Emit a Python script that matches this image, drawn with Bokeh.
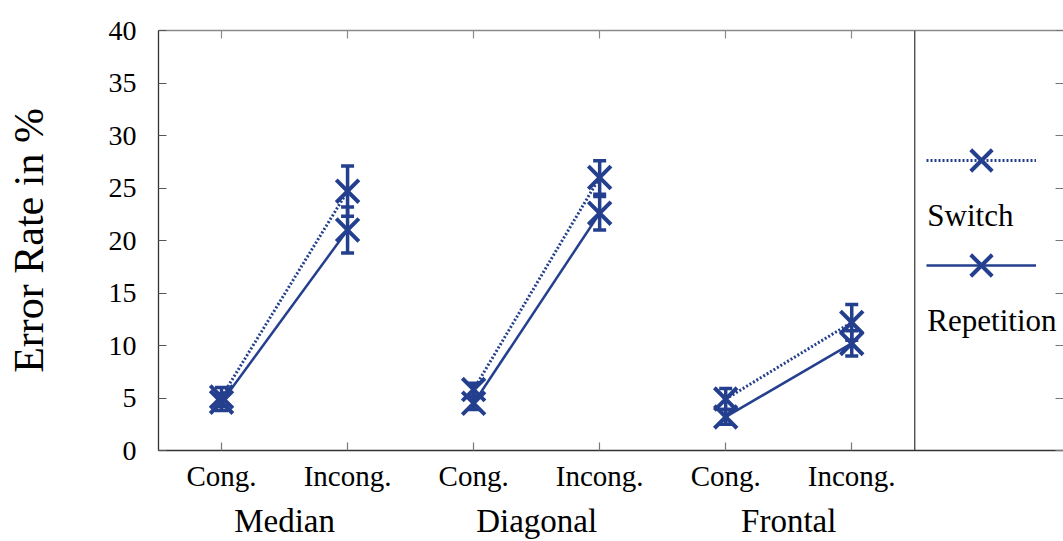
from bokeh.plotting import figure
from bokeh.models import (Range1d, LinearAxis, FixedTicker, Whisker, ColumnDataSource,
                          Span, Legend, LegendItem, Label, TeeHead)
from bokeh.embed import file_html
from bokeh.resources import INLINE

# ---- data ----
groups = ["Median", "Diagonal", "Frontal"]
conditions = ["Cong.", "Incong."]
switch_mean = [5.1, 24.7, 5.8, 26.0, 4.9, 12.2]
switch_err = [0.9, 2.4, 0.6, 1.6, 1.0, 1.7]
rep_mean = [4.6, 21.0, 4.5, 22.6, 3.2, 10.2]
rep_err = [0.8, 2.2, 0.6, 1.6, 0.7, 1.2]
series_names = ["Switch", "Repetition"]
y_ticks = [0, 5, 10, 15, 20, 25, 30, 35, 40]

BLUE = "#243f8e"
FONT = "Liberation Serif"

n = len(groups) * len(conditions)
x_pos = [i + 0.5 for i in range(n)]
tick_labels = {x: conditions[i % len(conditions)] for i, x in enumerate(x_pos)}
group_pos = [len(conditions) * g + len(conditions) / 2 for g in range(len(groups))]
group_labels = {x: groups[g] for g, x in enumerate(group_pos)}

p = figure(width=1063, height=541, x_range=Range1d(0, 7.18), y_range=Range1d(0, 40),
           output_backend="svg", toolbar_location=None,
           x_axis_location=None, y_axis_location=None,
           min_border_left=158, min_border_top=30, min_border_bottom=91, min_border_right=0)
p.outline_line_color = None
p.background_fill_color = "white"
p.border_fill_color = "white"
for g in p.grid:
    g.visible = False
p.renderers = [r for r in p.renderers if r.__class__.__name__ != "Grid"]

# ---- axes ----
yaxis = LinearAxis(ticker=FixedTicker(ticks=y_ticks), axis_label="Error Rate in %")
yaxis.major_tick_in = 8
yaxis.major_tick_out = 0
yaxis.minor_tick_line_color = None
yaxis.major_label_standoff = 22
yaxis.axis_label_standoff = 54
yaxis.axis_line_color = "#333333"
yaxis.axis_line_width = 1.3
yaxis.major_tick_line_color = "#555555"
yaxis.major_tick_line_width = 1.2
yaxis.major_label_text_font = FONT
yaxis.major_label_text_font_size = "28px"
yaxis.major_label_text_color = "black"
yaxis.axis_label_text_font = FONT
yaxis.axis_label_text_font_size = "42px"
yaxis.axis_label_text_font_style = "normal"
yaxis.axis_label_text_color = "black"
p.add_layout(yaxis, "left")

xaxis = LinearAxis(ticker=FixedTicker(ticks=x_pos), major_label_overrides=tick_labels)
xaxis.major_tick_in = 8
xaxis.major_tick_out = 0
xaxis.minor_tick_line_color = None
xaxis.major_label_standoff = 9
xaxis.axis_line_color = "#333333"
xaxis.axis_line_width = 1.3
xaxis.major_tick_line_color = "#777777"
xaxis.major_tick_line_width = 1.2
xaxis.major_label_text_font = FONT
xaxis.major_label_text_font_size = "29px"
xaxis.major_label_text_color = "black"
p.add_layout(xaxis, "below")

gaxis = LinearAxis(ticker=FixedTicker(ticks=group_pos), major_label_overrides=group_labels)
gaxis.major_tick_line_color = None
gaxis.minor_tick_line_color = None
gaxis.axis_line_color = None
gaxis.major_label_standoff = 2
gaxis.major_label_text_font = FONT
gaxis.major_label_text_font_size = "33px"
gaxis.major_label_text_color = "black"
p.add_layout(gaxis, "below")

taxis = LinearAxis(ticker=FixedTicker(ticks=x_pos))
taxis.major_tick_in = 8
taxis.major_tick_out = 0
taxis.minor_tick_line_color = None
taxis.major_label_text_font_size = "1px"
taxis.major_label_text_color = None
taxis.major_label_standoff = 0
taxis.axis_line_color = "#8a8a8a"
taxis.axis_line_width = 1.5
taxis.major_tick_line_color = "#8a8a8a"
taxis.major_tick_line_width = 1.2
p.add_layout(taxis, "above")

raxis = LinearAxis(ticker=FixedTicker(ticks=y_ticks))
raxis.major_tick_in = 8
raxis.major_tick_out = 0
raxis.minor_tick_line_color = None
raxis.major_label_text_font_size = "1px"
raxis.major_label_text_color = None
raxis.major_label_standoff = 0
raxis.axis_line_color = None
raxis.major_tick_line_color = "#777777"
raxis.major_tick_line_width = 1.2
p.add_layout(raxis, "right")

# separator between plot and legend area
p.add_layout(Span(location=len(x_pos), dimension="height", line_color="#333333", line_width=1.2))

# ---- data marks ----
def group_xs():
    k = len(conditions)
    return [x_pos[g * k:(g + 1) * k] for g in range(len(groups))]

def group_ys(vals):
    k = len(conditions)
    return [vals[g * k:(g + 1) * k] for g in range(len(groups))]

renderers = []
for mean, err, dash, lw in [(switch_mean, switch_err, "2 2", 3), (rep_mean, rep_err, "solid", 2.5)]:
    ml = p.multi_line(group_xs(), group_ys(mean), line_color=BLUE, line_width=lw, line_dash=dash)
    src = ColumnDataSource(dict(x=x_pos, upper=[m + e for m, e in zip(mean, err)],
                                lower=[m - e for m, e in zip(mean, err)]))
    w = Whisker(base="x", upper="upper", lower="lower", source=src,
                line_color=BLUE, line_width=3.5,
                upper_head=TeeHead(size=13, line_color=BLUE, line_width=3.5),
                lower_head=TeeHead(size=13, line_color=BLUE, line_width=3.5))
    p.add_layout(w)
    sc = p.scatter(x_pos, mean, marker="x", size=32, line_color=BLUE, line_width=4)
    renderers.append((ml, sc))

# ---- legend (glyph row above each label) ----
legend = Legend(items=[LegendItem(label=" ", renderers=list(r)) for r in renderers],
                location=(768, 147), glyph_width=110, glyph_height=76, spacing=29,
                padding=0, margin=0, border_line_color=None, background_fill_alpha=0,
                label_text_font_size="1px", label_text_color=None,
                label_height=1, label_standoff=0)
p.add_layout(legend)

for name, ylab in zip(series_names, [22.4, 12.4]):
    p.add_layout(Label(x=6.1, y=ylab, text=name, text_baseline="middle",
                       text_font=FONT, text_font_size="31px", text_color="black"))

open("out.html", "w").write(file_html(p, INLINE))
